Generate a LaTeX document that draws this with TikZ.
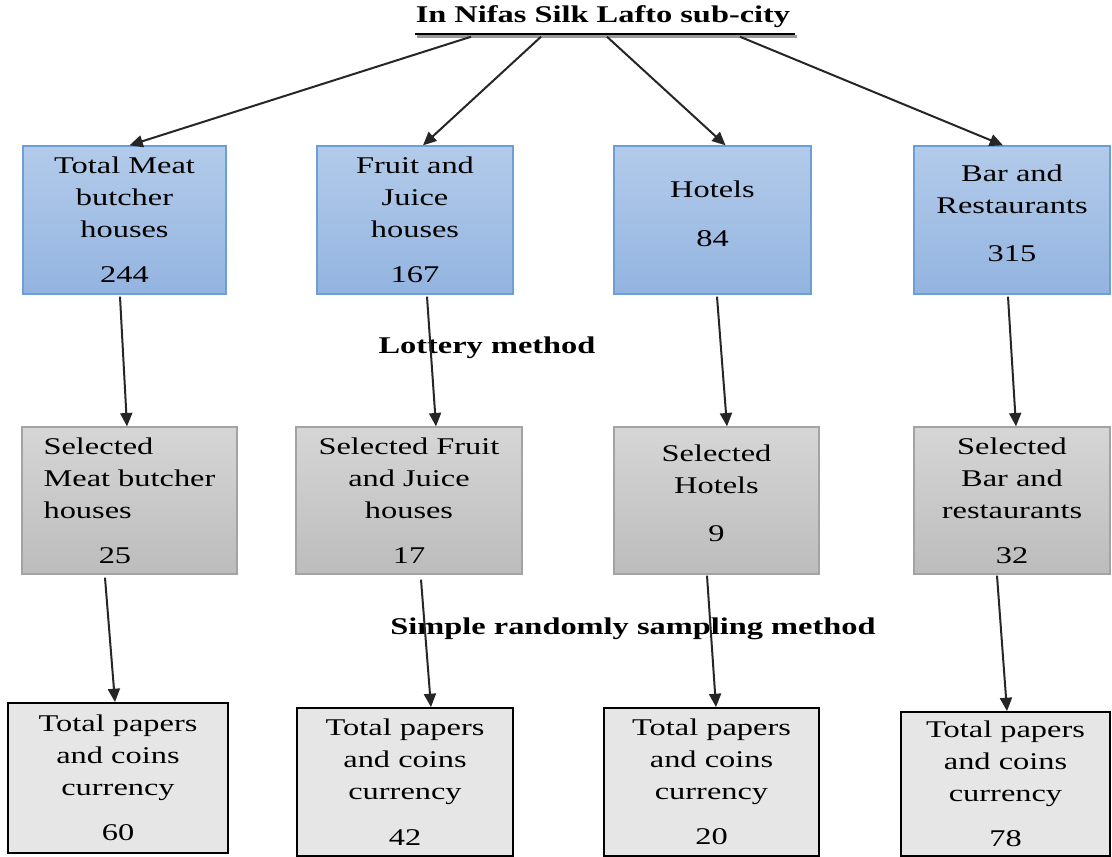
\documentclass[tikz,border=0pt]{standalone}
\usepackage{fontspec}
\setmainfont[FakeStretch=1.35]{Liberation Serif}
\usepackage{tikz}
\usetikzlibrary{arrows.meta, calc}
\definecolor{cTopT}{HTML}{B3CBEA}
\definecolor{cTopB}{HTML}{93B4E0}
\definecolor{cTopD}{HTML}{6C9FD6}
\definecolor{cSelT}{HTML}{D6D6D6}
\definecolor{cSelB}{HTML}{BCBCBC}
\definecolor{cSelD}{HTML}{A3A3A3}
\definecolor{cTot}{HTML}{E6E6E6}
\definecolor{cArr}{HTML}{262626}
\definecolor{cShd}{HTML}{9A9A9A}

\begin{document}
\begin{tikzpicture}[
    x=0.75pt, y=-0.75pt,
    bx/.style={inner sep=2pt, align=center, font=\fontsize{18}{24}\selectfont},
    topbox/.style={bx, top color=cTopT, bottom color=cTopB, draw=cTopD,
                   line width=1pt, minimum height=111pt},
    selbox/.style={bx, top color=cSelT, bottom color=cSelB, draw=cSelD,
                   line width=1pt, minimum height=110.25pt},
    totbox/.style={bx, fill=cTot, draw=black, line width=1.4pt},
    ar/.style={-{Triangle[length=10pt,width=9pt]}, line width=1.5pt, draw=cArr},
    lbl/.style={font=\fontsize{18}{22}\selectfont\bfseries},
]
\useasboundingbox (0,0) rectangle (1112,856);

% === TITLE ===
\node[lbl] (title) at (603,17) {In Nifas Silk Lafto sub-city};
\draw[cShd, line width=2pt] ($(title.south west)+(6,4)$) -- ($(title.south east)+(2,4)$);
\draw[line width=1.6pt] ($(title.south west)+(4,1)$) -- ($(title.south east)+(0,1)$);

% === ROW 1: population per category ===
\node[topbox, minimum width=152.25pt] (meat) at (124.5,220)
    {Total Meat\\butcher\\houses\\[10pt]244};
\node[topbox, minimum width=147pt] (fruit) at (415,220)
    {Fruit and\\Juice\\houses\\[10pt]167};
\node[topbox, minimum width=147.75pt] (hotel) at (712.5,220)
    {Hotels\\[13pt]84\\[-15pt]\mbox{}};
\node[topbox, minimum width=147pt] (bar) at (1012,220)
    {Bar and\\Restaurants\\[12pt]315\\[-13.5pt]\mbox{}};

% Row 1 arrows
\draw[ar] ($(title.south)+(-132,4)$) -- ($(meat.north)+(5,0)$);
\draw[ar] ($(title.south)+(-62,4)$) -- ($(fruit.north)+(8,0)$);
\draw[ar] ($(title.south)+(4,4)$) -- ($(hotel.north)+(13,0)$);
\draw[ar] ($(title.south)+(137,4)$) -- ($(bar.north)+(-9,0)$);

\node[lbl] (lottery) at (487,348) {Lottery method};

% === ROW 2: selected sample ===
\node[selbox, minimum width=161.25pt, align=left] (smeat) at (129.5,500.5)
    {Selected\\Meat butcher\\houses\\[10pt]\hspace*{2.3em}25};
\node[selbox, minimum width=169.5pt] (sfruit) at (409,500.5)
    {Selected Fruit\\and Juice\\houses\\[10pt]17};
\node[selbox, minimum width=153.75pt] (shotel) at (716.5,500.5)
    {Selected\\Hotels\\[12pt]9\\[-13.5pt]\mbox{}};
\node[selbox, minimum width=147pt] (sbar) at (1012,500.5)
    {Selected\\Bar and\\restaurants\\[10pt]32};

% Row 1 -> Row 2 arrows
\draw[ar] ($(meat.south)+(-4.5,2)$) -- ($(smeat.north)+(-2.5,0)$);
\draw[ar] ($(fruit.south)+(12,2)$) -- ($(sfruit.north)+(27,0)$);
\draw[ar] ($(hotel.south)+(4.5,2)$) -- ($(shotel.north)+(10.5,0)$);
\draw[ar] ($(bar.south)+(-4,2)$) -- ($(sbar.north)+(4,0)$);

\node[lbl] (simple) at (633,629) {Simple randomly sampling method};

% === ROW 3: currency totals ===
\node[totbox, minimum width=165pt, minimum height=112.5pt] (tmeat) at (118,778)
    {Total papers\\and coins\\currency\\[10pt]60};
\node[totbox, minimum width=162pt, minimum height=111pt] (tfruit) at (405,782)
    {Total papers\\and coins\\currency\\[10pt]42};
\node[totbox, minimum width=161.25pt, minimum height=111pt] (thotel) at (711.5,782)
    {Total papers\\and coins\\currency\\[10pt]20};
\node[totbox, minimum width=156.75pt, minimum height=108pt] (tbar) at (1005.5,784)
    {Total papers\\and coins\\currency\\[10pt]78};

% Row 2 -> Row 3 arrows
\draw[ar] ($(smeat.south)+(-24.5,3)$) -- ($(tmeat.north)+(-3,0)$);
\draw[ar] ($(sfruit.south)+(12,5)$) -- ($(tfruit.north)+(26,0)$);
\draw[ar] ($(shotel.south)+(-9.5,1)$) -- ($(thotel.north)+(4.5,0)$);
\draw[ar] ($(sbar.south)+(-15,1)$) -- ($(tbar.north)+(1.5,0)$);

\end{tikzpicture}
\end{document}
